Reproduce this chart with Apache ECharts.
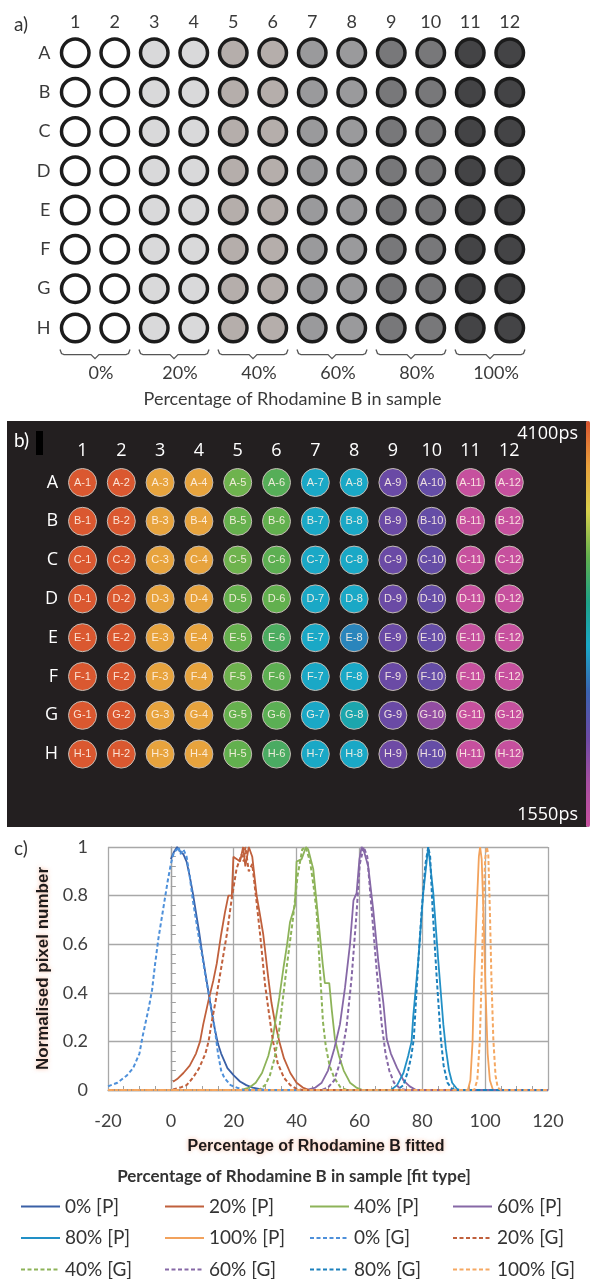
<!DOCTYPE html>
<html><head><meta charset="utf-8">
<script src="https://cdn.jsdelivr.net/npm/echarts@6/dist/echarts.min.js"></script>
<style>html,body{margin:0;padding:0;background:#fff}#c{width:590px;height:1279px}</style>
</head><body><div id="c"></div>
<script>
// ---------- data ----------
const colLabels = ['1','2','3','4','5','6','7','8','9','10','11','12'];
const rowLabels = ['A','B','C','D','E','F','G','H'];
const samplePct = [0,0,20,20,40,40,60,60,80,80,100,100];
const groupLabels = ['0%','20%','40%','60%','80%','100%'];
const lifetimeMin = 1550, lifetimeMax = 4100;
const lifetimePs = [
  [4080,4080,3800,3800,3280,3200,2690,2690,2120,2150,1570,1570],
  [4080,4080,3800,3800,3260,3250,2690,2690,2120,2150,1570,1570],
  [4080,4080,3800,3800,3280,3230,2690,2690,2120,2150,1570,1570],
  [4080,4080,3800,3800,3260,3250,2690,2690,2120,2150,1570,1570],
  [4080,4080,3800,3800,3260,3160,2690,2540,2120,2150,1590,1570],
  [4080,4080,3800,3800,3280,3230,2690,2690,2120,2150,1570,1570],
  [4080,4080,3800,3800,3260,3220,2690,2800,2120,1930,1570,1570],
  [4080,4080,3800,3800,3250,3150,2690,2690,2100,2150,1570,1570]
];
const fitX = {min:-20, max:120, step:20};
const p0 = [[0,0.95],[1,0.98],[2,1.0],[3,0.98],[4,0.97],[5,0.94],[6,0.88],[7,0.81],[8,0.73],[9,0.65],[10,0.56],[11,0.48],[12,0.40],[13,0.32],[14,0.25],[15,0.19],[16,0.15],[17,0.12],[18,0.09],[20,0.06],[22,0.035],[24,0.02],[26,0.01],[28,0.005],[30,0],[105,0]];
const p20 = [[0.7,0.034],[2,0.045],[4,0.07],[6,0.1],[8,0.15],[9.3,0.2],[10.3,0.27],[12,0.37],[13.5,0.45],[14.6,0.52],[16,0.64],[17.2,0.73],[18.3,0.8],[19.4,0.8],[19.9,0.96],[21,0.95],[22,0.94],[23,1.0],[23.7,0.92],[24.8,1.0],[25.9,0.96],[27.3,0.8],[28.5,0.71],[29.4,0.64],[31,0.46],[32,0.36],[33.1,0.28],[34.5,0.2],[36,0.13],[38,0.07],[40,0.03],[42,0.01],[44,0],[105,0]];
const p40 = [[0,0],[22,0],[25,0.01],[27,0.03],[29,0.07],[31,0.14],[32.5,0.22],[33.1,0.27],[34.5,0.38],[35.8,0.5],[37,0.6],[37.9,0.69],[39.5,0.76],[40,0.94],[41.6,0.95],[43,1.0],[43.7,0.99],[45.3,0.91],[46.3,0.78],[47.4,0.64],[48.3,0.52],[49,0.44],[50.4,0.44],[51.2,0.33],[52.2,0.21],[53.5,0.14],[55,0.08],[57,0.03],[59,0.01],[61,0],[105,0]];
const p60 = [[0,0],[43,0],[46,0.01],[48,0.03],[50,0.08],[52,0.17],[53.8,0.27],[55.4,0.42],[57,0.6],[58.1,0.78],[59.1,0.81],[60,0.95],[60.7,1.0],[61.5,0.98],[62.8,0.92],[64.4,0.74],[66,0.53],[67.6,0.36],[68.7,0.21],[70,0.15],[72,0.09],[74,0.04],[76,0.015],[78,0],[105,0]];
const p80 = [[0,0],[70,0],[72,0.02],[74,0.07],[75.5,0.14],[76.6,0.2],[77.1,0.3],[78.7,0.53],[80.3,0.81],[81.9,1.0],[83.5,0.81],[85.1,0.53],[86.7,0.27],[87.5,0.17],[88.5,0.08],[89.5,0.03],[91,0.005],[92,0],[105,0]];
const p100 = [[-20,0],[94.5,0],[95.3,0.04],[96,0.2],[96.5,0.46],[97.3,0.74],[98,0.96],[98.4,1.0],[98.9,0.95],[99.5,0.72],[100.1,0.42],[100.8,0.15],[101.5,0.04],[102.5,0],[104,0]];
const g0 = [[-20,0.015],[-17,0.03],[-14,0.06],[-12,0.09],[-10,0.15],[-9,0.22],[-8,0.28],[-7,0.34],[-6,0.41],[-5,0.52],[-4,0.62],[-3,0.7],[-2,0.78],[-1,0.86],[0,0.93],[1,0.98],[2,0.99],[2.5,1.0],[3,0.97],[4,0.99],[5,0.96],[6,0.88],[7,0.78],[8,0.7],[9,0.62],[10,0.55],[11,0.47],[12,0.40],[13,0.33],[14,0.25],[15,0.15],[16,0.08],[17,0.05],[19,0.02],[21,0.01],[23,0],[120,0]];
const g20 = [[-20,0],[0,0],[3,0.01],[5,0.02],[7,0.05],[9,0.09],[11,0.15],[12,0.2],[13,0.28],[14.3,0.37],[15.6,0.47],[17.8,0.64],[19.4,0.79],[20.9,0.91],[22.5,0.97],[23.2,0.94],[23.7,1.0],[24.8,0.9],[25.9,0.93],[27.3,0.77],[28.4,0.64],[30,0.43],[31.6,0.28],[32.5,0.2],[34,0.11],[36,0.05],[38,0.02],[40,0.005],[42,0],[120,0]];
const g40 = [[-20,0],[28,0],[30,0.02],[31.5,0.06],[33,0.13],[34.2,0.22],[35.5,0.36],[36.8,0.5],[38,0.62],[38.9,0.71],[40.3,0.88],[41.8,0.99],[42.9,1.0],[44.3,0.94],[45.4,0.84],[46.4,0.73],[47.4,0.5],[48.4,0.28],[49.3,0.18],[50.5,0.1],[52,0.05],[54,0.01],[56,0],[120,0]];
const g60 = [[-20,0],[48,0],[50,0.01],[52,0.04],[54,0.12],[55.9,0.26],[57.5,0.46],[59.1,0.73],[60.1,0.93],[61.4,1.0],[62.5,0.96],[63.9,0.74],[65.5,0.49],[67.1,0.27],[68.3,0.15],[69.5,0.08],[71,0.03],[73,0.005],[75,0],[120,0]];
const g80 = [[-20,0],[72,0],[74,0.02],[75.5,0.08],[76.5,0.14],[77.3,0.21],[78.4,0.46],[79.8,0.74],[81,0.93],[81.9,1.0],[82.5,0.96],[83.3,0.74],[84.6,0.46],[85.9,0.21],[86.8,0.1],[88,0.03],[89.5,0.005],[91,0],[120,0]];
const g100 = [[-20,0],[96.5,0],[97.5,0.04],[98.3,0.2],[98.9,0.47],[99.4,0.74],[100,0.95],[100.5,1.0],[101,0.97],[101.5,0.74],[102,0.46],[102.6,0.21],[103.3,0.06],[104,0.01],[105,0],[120,0]];
const seriesNames = ['0% [P]','20% [P]','40% [P]','60% [P]','80% [P]','100% [P]','0% [G]','20% [G]','40% [G]','60% [G]','80% [G]','100% [G]'];
const seriesData = [p0,p20,p40,p60,p80,p100,g0,g20,g40,g60,g80,g100];

// ---------- styles ----------
const lineColors = ['#3a60a6','#c0603c','#8db359','#8668a6','#2290c6','#f2a25c','#4e90da','#c0603c','#8db359','#8668a6','#1c80bc','#f5a862'];
const plateGreys = ['#ffffff','#d9d9da','#b5aeab','#9a9a9c','#78787a','#444446'];
const lifetimeColors = ['#c8509e','#a64ea0','#6b4aa5','#3a62b0','#1aa8c8','#1ea286','#62b04e','#d8d04c','#e8a03c','#d9532f'];

const plateA = [];
rowLabels.forEach((r,ri)=>colLabels.forEach((c,ci)=>plateA.push([c,r,samplePct[ci]])));
const plateB = [];
rowLabels.forEach((r,ri)=>colLabels.forEach((c,ci)=>plateB.push([c,r,lifetimePs[ri][ci]])));

const chart = echarts.init(document.getElementById('c'), null, {renderer:'canvas'});
const darkTxt = '#3a3a3a';
const lineSeries = seriesNames.map((n,i)=>({
  name:n, type:'line', xAxisIndex:3, yAxisIndex:2, data:seriesData[i],
  symbol:'none', showSymbol:false, smooth:false,
  lineStyle:{color:lineColors[i], width: i<6 ? 1.8 : 2, type: i<6 ? 'solid' : [4,2.5]},
  itemStyle:{color:lineColors[i]}
}));
const legendCols = [0,1,2,3].map(k=>({
  orient:'vertical', left:[20,164,309,452][k], top:1197, height:100, padding:0,
  itemWidth:39, itemHeight:14, itemGap:12.5, selectedMode:false,
  itemStyle:{color:'rgba(0,0,0,0)', borderWidth:0, opacity:0},
  textStyle:{fontFamily:'Lato', fontSize:19, color:'#333'},
  data: seriesNames.filter((n,i)=>i%4===k)
}));

chart.setOption({
  animation:false,
  textStyle:{fontFamily:'Lato'},
  grid:[
    {left:55.5, top:33.2, width:474, height:314.4},
    {left:63.1, top:463.1, width:465.6, height:310.4},
    {left:108, top:847, width:440, height:243}
  ],
  xAxis:[
    {gridIndex:0, type:'category', data:colLabels, position:'top', axisLine:{show:false}, axisTick:{show:false},
     axisLabel:{interval:0, margin:2, fontSize:18, color:darkTxt, fontFamily:'Lato'}},
    {gridIndex:0, type:'category', data:groupLabels, position:'bottom', axisLine:{show:false}, axisTick:{show:false},
     axisLabel:{interval:0, margin:17, fontSize:18, color:darkTxt, fontFamily:'Lato', padding:[0,0,0,12]},
     name:'Percentage of Rhodamine B in sample', nameLocation:'middle', nameGap:43,
     nameTextStyle:{fontSize:18, color:darkTxt, fontFamily:'Lato'}},
    {gridIndex:1, type:'category', data:colLabels, position:'top', axisLine:{show:false}, axisTick:{show:false},
     axisLabel:{interval:0, margin:3, fontSize:18, color:'#ffffff', fontFamily:'Open Sans'}},
    {gridIndex:2, type:'value', min:fitX.min, max:fitX.max, interval:fitX.step,
     axisLine:{show:true, onZero:false, lineStyle:{color:'#a0a0a0', width:1.3}},
     axisTick:{show:false, inside:true},
     minorTick:{show:true, splitNumber:4, length:4, lineStyle:{color:'#a0a0a0'}},
     splitLine:{show:true, lineStyle:{color:'#a8a8a8', width:1.3}},
     axisLabel:{margin:22, fontSize:18, color:'#404040', fontFamily:'Lato'},
     name:'Percentage of Rhodamine B fitted', nameLocation:'middle', nameGap:49,
     nameTextStyle:{fontSize:16, fontWeight:'bold', color:'#1e1a1a', fontFamily:'Liberation Sans',
       textShadowColor:'rgba(245,150,110,0.65)', textShadowBlur:4, padding:[0,24,0,0]}}
  ],
  yAxis:[
    {gridIndex:0, type:'category', data:rowLabels, inverse:true, axisLine:{show:false}, axisTick:{show:false},
     axisLabel:{interval:0, margin:5, fontSize:18, color:darkTxt, fontFamily:'Lato'}},
    {gridIndex:1, type:'category', data:rowLabels, inverse:true, axisLine:{show:false}, axisTick:{show:false},
     axisLabel:{interval:0, margin:5, fontSize:18, color:'#ffffff', fontFamily:'Open Sans'}},
    {gridIndex:2, type:'value', min:0, max:1, interval:0.2,
     axisLine:{show:true, lineStyle:{color:'#a0a0a0', width:1.3}},
     axisTick:{show:false, inside:true},
     minorTick:{show:true, splitNumber:5, length:5, lineStyle:{color:'#a0a0a0'}},
     splitLine:{show:true, lineStyle:{color:'#a8a8a8', width:1.3}},
     axisLabel:{margin:20, fontSize:18, color:'#404040', fontFamily:'Lato'},
     name:'Normalised pixel number', nameLocation:'middle', nameGap:52,
     nameTextStyle:{fontSize:17, fontWeight:'bold', color:'#1e1a1a', fontFamily:'Liberation Sans',
       textShadowColor:'rgba(245,150,110,0.65)', textShadowBlur:4}}
  ],
  visualMap:[
    {type:'continuous', seriesIndex:0, dimension:2, min:0, max:100, show:false, inRange:{color:plateGreys}},
    {type:'continuous', seriesIndex:1, dimension:2, min:lifetimeMin, max:lifetimeMax, show:true,
     calculable:false, orient:'vertical', left:586, top:421, itemWidth:4, itemHeight:406, padding:0,
     inRange:{color:lifetimeColors}, hoverLink:false}
  ],
  legend: legendCols,
  graphic:[
    {type:'rect', z:-1, silent:true, shape:{x:7, y:421, width:580, height:406}, style:{fill:'#231f20'}},
    {type:'rect', z:5, silent:true, shape:{x:36, y:431, width:7, height:24}, style:{fill:'#000000'}},
    {type:'text', z:5, x:14, y:25, style:{text:'a)', fontSize:19, fontFamily:'Lato', fill:'#333', verticalAlign:'middle'}},
    {type:'text', z:5, x:14, y:441, style:{text:'b)', fontSize:19, fontFamily:'Lato', fill:'#ffffff', verticalAlign:'middle'}},
    {type:'text', z:5, x:14, y:849, style:{text:'c)', fontSize:19, fontFamily:'Lato', fill:'#333', verticalAlign:'middle'}},
    {type:'text', z:5, x:578, y:434, style:{text:'4100ps', fontSize:18, fontFamily:'Open Sans', fill:'#ffffff', align:'right', verticalAlign:'middle'}},
    {type:'text', z:5, x:578, y:815, style:{text:'1550ps', fontSize:18, fontFamily:'Open Sans', fill:'#ffffff', align:'right', verticalAlign:'middle'}},
    {type:'text', z:5, x:294, y:1177, style:{text:'Percentage of Rhodamine B in sample [fit type]', fontSize:17, fontWeight:'bold', fontFamily:'Lato', fill:'#333', align:'center', verticalAlign:'middle'}}
  ],
  series:[
    {type:'scatter', xAxisIndex:0, yAxisIndex:0, data:plateA, symbolSize:27.5,
     itemStyle:{borderColor:'#1c1c1c', borderWidth:3.5, opacity:1}},
    {type:'scatter', xAxisIndex:2, yAxisIndex:1, data:plateB, symbolSize:28,
     itemStyle:{borderColor:'#c4bcb4', borderWidth:1, opacity:1},
     label:{show:true, position:'inside', fontSize:11, fontFamily:'Liberation Sans', color:'rgba(255,244,232,0.88)',
       formatter:p=>p.value[1]+'-'+p.value[0]}},
    {type:'custom', xAxisIndex:1, yAxisIndex:0, data:groupLabels.map((g,i)=>[i,0]), silent:true,
     renderItem:(params, api)=>{
       const cs = params.coordSys;
       const cx = api.coord([api.value(0), 0])[0];
       const half = api.size([1,0])[0]/2 - 4.5;
       const yTop = cs.y + cs.height + 2, yMid = yTop + 5, yTip = yTop + 9;
       const x0 = cx-half, x1 = cx+half;
       return {type:'polyline', shape:{points:[[x0,yTop],[x0+1.5,yMid-1],[x0+4,yMid],[cx-4,yMid],[cx,yTip],[cx+4,yMid],[x1-4,yMid],[x1-1.5,yMid-1],[x1,yTop]]},
         style:{stroke:'#555', fill:null, lineWidth:1.3}};
     }}
  ].concat(lineSeries)
});
</script></body></html>
